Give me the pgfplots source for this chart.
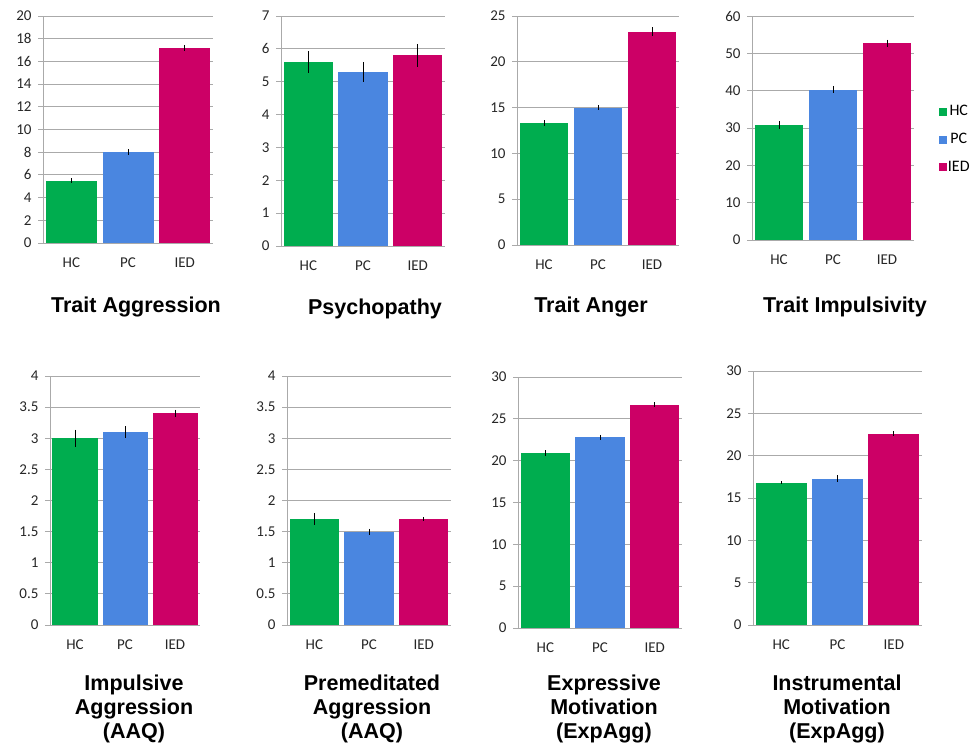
\documentclass[border=0pt]{standalone}
\usepackage{pgfplots}
\pgfplotsset{compat=1.18}
\usepackage{fontspec}
\setmainfont{Carlito}
\newfontfamily\titlefont{Liberation Sans}
\definecolor{cHC}{HTML}{00AD4F}
\definecolor{cPC}{HTML}{4A86E0}
\definecolor{cIED}{HTML}{CC0066}
\definecolor{axgray}{HTML}{AAAAAA}
\pgfplotsset{
  panel/.style={
    scale only axis, ybar, bar width=0.9, bar shift=0pt,
    xmin=0.5, xmax=3.5, ymin=0,
    axis x line=bottom, axis y line=left,
    axis line style={axgray, -, line width=0.8pt},
    xtick={1,2,3}, xticklabels={HC,PC,IED},
    x tick style={draw=none},
    extra x ticks={0.5,1.5,2.5,3.5}, extra x tick labels={},
    extra x tick style={grid=none, major tick length=5pt, tick style={axgray, line width=0.8pt}},
    ymajorgrids, grid style={axgray, line width=0.8pt},
    y tick style={axgray, line width=0.8pt},
    tick align=outside, major tick length=5pt,
    tick label style={font=\fontsize{15}{15}\selectfont, text=black!85},
    xticklabel style={yshift=-6pt},
    yticklabel style={xshift=-3pt},
    /pgf/number format/assume math mode=true,
  },
  eb/.style={error bars/.cd, y dir=both, y explicit,
    error bar style={draw=black, line width=0.9pt}, error mark=none},
}
\begin{document}
\begin{tikzpicture}[x=1pt,y=1pt]
\useasboundingbox (0,0) rectangle (979,754);
% Row 1
\begin{axis}[panel, at={(43pt,511pt)}, anchor=south west, width=170pt, height=227pt,
  ymax=20, ytick={0,2,...,20}]
\addplot[fill=cHC, draw=none, eb] coordinates {(1,5.5) +- (0,0.2)};
\addplot[fill=cPC, draw=none, eb] coordinates {(2,8.0) +- (0,0.25)};
\addplot[fill=cIED, draw=none, eb] coordinates {(3,17.2) +- (0,0.25)};
\end{axis}
\begin{axis}[panel, at={(281pt,508pt)}, anchor=south west, width=164pt, height=230pt,
  ymax=7, ytick={0,1,...,7}]
\addplot[fill=cHC, draw=none, eb] coordinates {(1,5.6) +- (0,0.32)};
\addplot[fill=cPC, draw=none, eb] coordinates {(2,5.3) +- (0,0.3)};
\addplot[fill=cIED, draw=none, eb] coordinates {(3,5.8) +- (0,0.35)};
\end{axis}
\begin{axis}[panel, at={(517pt,509pt)}, anchor=south west, width=162pt, height=229pt,
  ymax=25, ytick={0,5,...,25}]
\addplot[fill=cHC, draw=none, eb] coordinates {(1,13.3) +- (0,0.3)};
\addplot[fill=cPC, draw=none, eb] coordinates {(2,15.0) +- (0,0.3)};
\addplot[fill=cIED, draw=none, eb] coordinates {(3,23.3) +- (0,0.45)};
\end{axis}
\begin{axis}[panel, at={(752pt,514pt)}, anchor=south west, width=162pt, height=224pt,
  ymax=60, ytick={0,10,...,60},
  legend style={at={(rel axis cs:1.15,0.45)}, anchor=west, draw=none, fill=none,
    inner sep=0pt, row sep=12pt, font=\fontsize{16}{16}\selectfont,
    /tikz/every even column/.append style={column sep=2pt}}]
\addplot[forget plot, fill=cHC, draw=none, eb] coordinates {(1,30.8) +- (0,1.0)};
\addplot[forget plot, fill=cPC, draw=none, eb] coordinates {(2,40.3) +- (0,1.0)};
\addplot[forget plot, fill=cIED, draw=none, eb] coordinates {(3,52.7) +- (0,1.0)};
\addlegendimage{legend image code/.code={\fill[cHC] (0pt,-3.5pt) rectangle (7pt,3.5pt);}}
\addlegendentry{HC}
\addlegendimage{legend image code/.code={\fill[cPC] (0pt,-3.5pt) rectangle (7pt,3.5pt);}}
\addlegendentry{PC}
\addlegendimage{legend image code/.code={\fill[cIED] (0pt,-3.5pt) rectangle (7pt,3.5pt);}}
\addlegendentry{IED}
\end{axis}
% Row 2
\begin{axis}[panel, at={(50pt,129pt)}, anchor=south west, width=150pt, height=249pt,
  ymax=4, ytick={0,0.5,...,4}]
\addplot[fill=cHC, draw=none, eb] coordinates {(1,3.0) +- (0,0.14)};
\addplot[fill=cPC, draw=none, eb] coordinates {(2,3.1) +- (0,0.09)};
\addplot[fill=cIED, draw=none, eb] coordinates {(3,3.4) +- (0,0.06)};
\end{axis}
\begin{axis}[panel, at={(287pt,129pt)}, anchor=south west, width=164pt, height=249pt,
  ymax=4, ytick={0,0.5,...,4}]
\addplot[fill=cHC, draw=none, eb] coordinates {(1,1.7) +- (0,0.1)};
\addplot[fill=cPC, draw=none, eb] coordinates {(2,1.5) +- (0,0.05)};
\addplot[fill=cIED, draw=none, eb] coordinates {(3,1.7) +- (0,0.03)};
\end{axis}
\begin{axis}[panel, at={(518pt,126pt)}, anchor=south west, width=164pt, height=251pt,
  ymax=30, ytick={0,5,...,30}]
\addplot[fill=cHC, draw=none, eb] coordinates {(1,20.9) +- (0,0.35)};
\addplot[fill=cPC, draw=none, eb] coordinates {(2,22.8) +- (0,0.3)};
\addplot[fill=cIED, draw=none, eb] coordinates {(3,26.7) +- (0,0.3)};
\end{axis}
\begin{axis}[panel, at={(753pt,129pt)}, anchor=south west, width=169pt, height=254pt,
  ymax=30, ytick={0,5,...,30}]
\addplot[fill=cHC, draw=none, eb] coordinates {(1,16.8) +- (0,0.2)};
\addplot[fill=cPC, draw=none, eb] coordinates {(2,17.3) +- (0,0.4)};
\addplot[fill=cIED, draw=none, eb] coordinates {(3,22.6) +- (0,0.3)};
\end{axis}
% Titles
\tikzset{ttl/.style={font=\titlefont\bfseries\fontsize{21.5}{24}\selectfont, align=center, inner sep=0pt}}
\node[ttl] at (136,447) {Trait Aggression};
\node[ttl] at (375,445) {Psychopathy};
\node[ttl] at (591,447) {Trait Anger};
\node[ttl] at (845,447) {Trait Impulsivity};
\node[ttl] at (134,45) {Impulsive\\Aggression\\(AAQ)};
\node[ttl] at (372,45) {Premeditated\\Aggression\\(AAQ)};
\node[ttl] at (604,45) {Expressive\\Motivation\\(ExpAgg)};
\node[ttl] at (837,45) {Instrumental\\Motivation\\(ExpAgg)};
\end{tikzpicture}
\end{document}
